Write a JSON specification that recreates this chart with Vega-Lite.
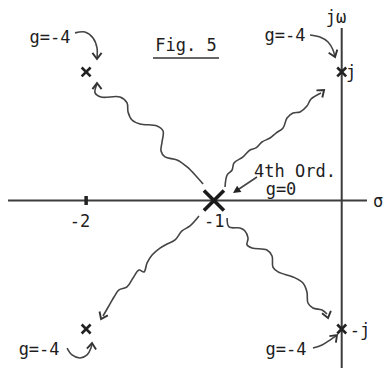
{
  "$schema": "https://vega.github.io/schema/vega-lite/v6.json",
  "width": 386,
  "height": 368,
  "autosize": {"type": "none"},
  "padding": 0,
  "background": "white",
  "config": {"view": {"stroke": null}},
  "datasets": {
    "axes": [
      {"part": "sigma-axis", "sigma": -2.611, "sigma2": 0.198, "omega": 0, "omega2": 0},
      {"part": "jw-axis", "sigma": 0, "sigma2": 0, "omega": 1.342, "omega2": -1.31}
    ],
    "tick": [
      {"sigma": -2, "sigma2": -2, "omega": 0.035, "omega2": -0.035}
    ],
    "underline": [
      {"sigma": -1.477, "sigma2": -0.96, "omega": 1.109, "omega2": 1.109}
    ],
    "loci": [
      {"path": "A", "step": 1, "sigma": -1.085, "omega": 0.128},
      {"path": "A", "step": 2, "sigma": -1.14, "omega": 0.191},
      {"path": "A", "step": 3, "sigma": -1.21, "omega": 0.261},
      {"path": "A", "step": 4, "sigma": -1.289, "omega": 0.315},
      {"path": "A", "step": 5, "sigma": -1.383, "omega": 0.339},
      {"path": "A", "step": 6, "sigma": -1.414, "omega": 0.385},
      {"path": "A", "step": 7, "sigma": -1.406, "omega": 0.455},
      {"path": "A", "step": 8, "sigma": -1.398, "omega": 0.541},
      {"path": "A", "step": 9, "sigma": -1.445, "omega": 0.58},
      {"path": "A", "step": 10, "sigma": -1.578, "omega": 0.595},
      {"path": "A", "step": 11, "sigma": -1.641, "omega": 0.626},
      {"path": "A", "step": 12, "sigma": -1.672, "omega": 0.689},
      {"path": "A", "step": 13, "sigma": -1.68, "omega": 0.759},
      {"path": "A", "step": 14, "sigma": -1.735, "omega": 0.805},
      {"path": "A", "step": 15, "sigma": -1.883, "omega": 0.805},
      {"path": "A", "step": 16, "sigma": -1.93, "omega": 0.837},
      {"path": "A", "step": 17, "sigma": -1.915, "omega": 0.907},

      {"path": "B", "step": 1, "sigma": -0.913, "omega": 0.105},
      {"path": "B", "step": 2, "sigma": -0.897, "omega": 0.198},
      {"path": "B", "step": 3, "sigma": -0.858, "omega": 0.237},
      {"path": "B", "step": 4, "sigma": -0.843, "omega": 0.292},
      {"path": "B", "step": 5, "sigma": -0.772, "omega": 0.339},
      {"path": "B", "step": 6, "sigma": -0.718, "omega": 0.393},
      {"path": "B", "step": 7, "sigma": -0.671, "omega": 0.409},
      {"path": "B", "step": 8, "sigma": -0.624, "omega": 0.455},
      {"path": "B", "step": 9, "sigma": -0.561, "omega": 0.486},
      {"path": "B", "step": 10, "sigma": -0.514, "omega": 0.525},
      {"path": "B", "step": 11, "sigma": -0.459, "omega": 0.564},
      {"path": "B", "step": 12, "sigma": -0.428, "omega": 0.642},
      {"path": "B", "step": 13, "sigma": -0.381, "omega": 0.681},
      {"path": "B", "step": 14, "sigma": -0.326, "omega": 0.689},
      {"path": "B", "step": 15, "sigma": -0.272, "omega": 0.735},
      {"path": "B", "step": 16, "sigma": -0.24, "omega": 0.79},
      {"path": "B", "step": 17, "sigma": -0.162, "omega": 0.837},

      {"path": "C", "step": 1, "sigma": -1.117, "omega": -0.121},
      {"path": "C", "step": 2, "sigma": -1.187, "omega": -0.198},
      {"path": "C", "step": 3, "sigma": -1.25, "omega": -0.237},
      {"path": "C", "step": 4, "sigma": -1.304, "omega": -0.307},
      {"path": "C", "step": 5, "sigma": -1.367, "omega": -0.339},
      {"path": "C", "step": 6, "sigma": -1.422, "omega": -0.37},
      {"path": "C", "step": 7, "sigma": -1.484, "omega": -0.424},
      {"path": "C", "step": 8, "sigma": -1.523, "omega": -0.486},
      {"path": "C", "step": 9, "sigma": -1.547, "omega": -0.556},
      {"path": "C", "step": 10, "sigma": -1.586, "omega": -0.541},
      {"path": "C", "step": 11, "sigma": -1.633, "omega": -0.603},
      {"path": "C", "step": 12, "sigma": -1.68, "omega": -0.673},
      {"path": "C", "step": 13, "sigma": -1.743, "omega": -0.696},
      {"path": "C", "step": 14, "sigma": -1.782, "omega": -0.751},
      {"path": "C", "step": 15, "sigma": -1.813, "omega": -0.805},
      {"path": "C", "step": 16, "sigma": -1.868, "omega": -0.899},

      {"path": "D", "step": 1, "sigma": -0.897, "omega": -0.136},
      {"path": "D", "step": 2, "sigma": -0.882, "omega": -0.206},
      {"path": "D", "step": 3, "sigma": -0.796, "omega": -0.214},
      {"path": "D", "step": 4, "sigma": -0.757, "omega": -0.237},
      {"path": "D", "step": 5, "sigma": -0.733, "omega": -0.292},
      {"path": "D", "step": 6, "sigma": -0.741, "omega": -0.346},
      {"path": "D", "step": 7, "sigma": -0.702, "omega": -0.37},
      {"path": "D", "step": 8, "sigma": -0.585, "omega": -0.385},
      {"path": "D", "step": 9, "sigma": -0.545, "omega": -0.432},
      {"path": "D", "step": 10, "sigma": -0.538, "omega": -0.518},
      {"path": "D", "step": 11, "sigma": -0.498, "omega": -0.556},
      {"path": "D", "step": 12, "sigma": -0.381, "omega": -0.595},
      {"path": "D", "step": 13, "sigma": -0.303, "omega": -0.642},
      {"path": "D", "step": 14, "sigma": -0.272, "omega": -0.712},
      {"path": "D", "step": 15, "sigma": -0.264, "omega": -0.798},
      {"path": "D", "step": 16, "sigma": -0.225, "omega": -0.837},
      {"path": "D", "step": 17, "sigma": -0.154, "omega": -0.852},
      {"path": "D", "step": 18, "sigma": -0.115, "omega": -0.883},

      {"path": "E", "step": 1, "sigma": -2.087, "omega": 1.304},
      {"path": "E", "step": 2, "sigma": -2.009, "omega": 1.311},
      {"path": "E", "step": 3, "sigma": -1.946, "omega": 1.265},
      {"path": "E", "step": 4, "sigma": -1.915, "omega": 1.187},
      {"path": "E", "step": 5, "sigma": -1.915, "omega": 1.11},

      {"path": "F", "step": 1, "sigma": -0.248, "omega": 1.288},
      {"path": "F", "step": 2, "sigma": -0.17, "omega": 1.272},
      {"path": "F", "step": 3, "sigma": -0.107, "omega": 1.233},
      {"path": "F", "step": 4, "sigma": -0.068, "omega": 1.171},
      {"path": "F", "step": 5, "sigma": -0.055, "omega": 1.125},

      {"path": "G", "step": 1, "sigma": -0.225, "omega": -1.148},
      {"path": "G", "step": 2, "sigma": -0.154, "omega": -1.125},
      {"path": "G", "step": 3, "sigma": -0.092, "omega": -1.086},
      {"path": "G", "step": 4, "sigma": -0.042, "omega": -1.052},

      {"path": "H", "step": 1, "sigma": -2.149, "omega": -1.148},
      {"path": "H", "step": 2, "sigma": -2.11, "omega": -1.202},
      {"path": "H", "step": 3, "sigma": -2.048, "omega": -1.226},
      {"path": "H", "step": 4, "sigma": -1.993, "omega": -1.202},
      {"path": "H", "step": 5, "sigma": -1.962, "omega": -1.148},
      {"path": "H", "step": 6, "sigma": -1.955, "omega": -1.115},

      {"path": "I", "step": 1, "sigma": -0.663, "omega": 0.183},
      {"path": "I", "step": 2, "sigma": -0.83, "omega": 0.072}
    ],
    "heads": [
      {"path": "A", "sigma": -1.915, "omega": 0.914, "heading": 270},
      {"path": "B", "sigma": -0.138, "omega": 0.86, "heading": -40},
      {"path": "C", "sigma": -1.883, "omega": -0.922, "heading": 115},
      {"path": "D", "sigma": -0.107, "omega": -0.914, "heading": 75},
      {"path": "E", "sigma": -1.915, "omega": 1.101, "heading": 90},
      {"path": "F", "sigma": -0.052, "omega": 1.117, "heading": 70},
      {"path": "G", "sigma": -0.037, "omega": -1.047, "heading": -45},
      {"path": "H", "sigma": -1.954, "omega": -1.109, "heading": -85}
    ],
    "solidHeads": [
      {"path": "I", "sigma": -0.851, "omega": 0.058, "heading": 146}
    ],
    "poles": [
      {"kind": "pole", "sigma": -2, "omega": 1},
      {"kind": "pole", "sigma": -2, "omega": -1},
      {"kind": "pole", "sigma": 0, "omega": 1},
      {"kind": "pole", "sigma": 0, "omega": -1},
      {"kind": "origin", "sigma": -1, "omega": 0}
    ],
    "labels": [
      {"sigma": -2.282, "omega": 1.265, "text": "g=-4"},
      {"sigma": -1.218, "omega": 1.202, "text": "Fig. 5"},
      {"sigma": -0.045, "omega": 1.42, "text": "jω"},
      {"sigma": -0.444, "omega": 1.28, "text": "g=-4"},
      {"sigma": 0.073, "omega": 0.992, "text": "j"},
      {"sigma": -2.048, "omega": -0.167, "text": "-2"},
      {"sigma": -0.998, "omega": -0.167, "text": "-1"},
      {"sigma": -0.366, "omega": 0.225, "text": "4th Ord."},
      {"sigma": -0.475, "omega": 0.082, "text": "g=0"},
      {"sigma": 0.284, "omega": -0.012, "text": "σ"},
      {"sigma": 0.143, "omega": -1.016, "text": "-j"},
      {"sigma": -0.436, "omega": -1.163, "text": "g=-4"},
      {"sigma": -2.368, "omega": -1.163, "text": "g=-4"}
    ]
  },
  "encoding": {
    "x": {"field": "sigma", "type": "quantitative", "axis": null, "scale": {"domain": [-2.674, 0.3466], "nice": false, "zero": false}},
    "y": {"field": "omega", "type": "quantitative", "axis": null, "scale": {"domain": [-1.3035, 1.56], "nice": false, "zero": false}}
  },
  "layer": [
    {
      "data": {"name": "axes"},
      "mark": {"type": "rule", "color": "#3c3c3c", "strokeWidth": 2},
      "encoding": {"x2": {"field": "sigma2"}, "y2": {"field": "omega2"}}
    },
    {
      "data": {"name": "tick"},
      "mark": {"type": "rule", "color": "#222", "strokeWidth": 3.5},
      "encoding": {"x2": {"field": "sigma2"}, "y2": {"field": "omega2"}}
    },
    {
      "data": {"name": "underline"},
      "mark": {"type": "rule", "color": "#333", "strokeWidth": 1.6},
      "encoding": {"x2": {"field": "sigma2"}, "y2": {"field": "omega2"}}
    },
    {
      "data": {"name": "loci"},
      "mark": {"type": "line", "color": "#444", "strokeWidth": 1.6, "interpolate": "catmull-rom"},
      "encoding": {"detail": {"field": "path"}, "order": {"field": "step", "type": "quantitative"}}
    },
    {
      "data": {"name": "heads"},
      "mark": {"type": "point", "shape": "M -1 -0.75 L 0 0 L -1 0.75", "filled": false, "stroke": "#333", "strokeWidth": 1.9, "size": 150, "opacity": 1},
      "encoding": {"angle": {"field": "heading", "type": "quantitative", "scale": null}}
    },
    {
      "data": {"name": "solidHeads"},
      "mark": {"type": "point", "shape": "M 0 0 L -1.2 -0.6 L -1.2 0.6 Z", "filled": true, "color": "#222", "size": 160, "opacity": 1},
      "encoding": {"angle": {"field": "heading", "type": "quantitative", "scale": null}}
    },
    {
      "data": {"name": "poles"},
      "transform": [{"filter": "datum.kind === 'pole'"}],
      "mark": {"type": "point", "shape": "M -1 -1 L 1 1 M 1 -1 L -1 1", "filled": false, "stroke": "#222", "strokeWidth": 2.6, "size": 80, "opacity": 1}
    },
    {
      "data": {"name": "poles"},
      "transform": [{"filter": "datum.kind === 'origin'"}],
      "mark": {"type": "point", "shape": "M -1 -1 L 1 1 M 1 -1 L -1 1", "filled": false, "stroke": "#1a1a1a", "strokeWidth": 3.6, "size": 400, "opacity": 1}
    },
    {
      "data": {"name": "labels"},
      "mark": {"type": "text", "font": "DejaVu Sans Mono", "fontSize": 17, "color": "#1e1e1e", "align": "center", "baseline": "middle"},
      "encoding": {"text": {"field": "text"}}
    }
  ]
}
